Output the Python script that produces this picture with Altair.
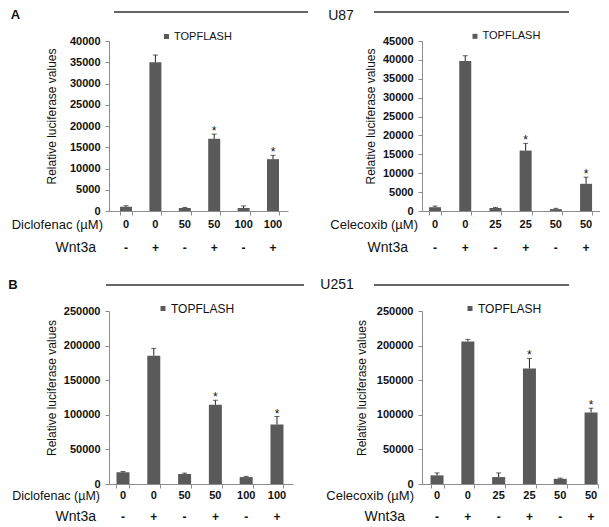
import altair as alt
import pandas as pd

# ---------------- data ----------------
doses_diclofenac = ["0", "0", "50", "50", "100", "100"]
doses_celecoxib = ["0", "0", "25", "25", "50", "50"]
wnt3a = ["-", "+", "-", "+", "-", "+"]
significant = [False, False, False, True, False, True]

u87_diclofenac_mean = [1000, 35000, 700, 17000, 700, 12200]
u87_diclofenac_err = [250, 1700, 150, 1100, 500, 900]
u87_celecoxib_mean = [1000, 39700, 800, 16000, 500, 7200]
u87_celecoxib_err = [300, 1400, 150, 1900, 200, 1750]
u251_diclofenac_mean = [17000, 185500, 14500, 114500, 10000, 86000]
u251_diclofenac_err = [1000, 10500, 1200, 6500, 1000, 11500]
u251_celecoxib_mean = [12500, 206000, 10000, 167000, 7500, 103500]
u251_celecoxib_err = [3500, 3000, 6000, 14500, 1000, 6000]

series_name = "TOPFLASH"
y_title = "Relative luciferase values"

FONT = "Liberation Sans"
BAR = "#5a5a5a"
AXIS = "#8c8c8c"
INK = "#111111"


def panel(doses, means, errs, drug_label, ymax, ystep, width, height,
          pi, po, al, legend_xy, offs, label_dx, wnt_dx, title_pad,
          legend_fs=11, label_fs=13, header=None):
    df = pd.DataFrame({
        "idx": list(range(len(doses))),
        "dose": doses,
        "wnt": wnt3a,
        "mean": means,
        "hi": [m + e for m, e in zip(means, errs)],
        "star": ["*" if s else "" for s in significant],
        "series": [series_name] * len(doses),
    })
    base = alt.Chart(df)
    x = alt.X("idx:O",
              scale=alt.Scale(paddingInner=pi, paddingOuter=po, align=al),
              axis=alt.Axis(title=None, labels=False, tickBand="extent",
                            tickSize=4, tickColor=AXIS, domainColor=AXIS))
    yscale = alt.Scale(domain=[0, ymax], nice=False)
    yaxis = alt.Axis(values=list(range(0, ymax + 1, ystep)), format="d",
                     labelOverlap=False, tickCount=len(range(0, ymax + 1, ystep)),
                     title=y_title, titlePadding=title_pad,
                     titleY=height / 2 - 10,
                     grid=False, tickSize=4, tickColor=AXIS,
                     domainColor=AXIS, labelPadding=5,
                     labelFontSize=11, labelFontWeight="bold",
                     labelColor=INK, titleFontSize=12,
                     titleFontWeight="normal", titleColor=INK)

    def yy(field):
        return alt.Y(field, scale=yscale, axis=yaxis, title=y_title)

    lx, ly = legend_xy
    bars = base.mark_bar().encode(
        x=x, y=yy("mean:Q"),
        color=alt.Color("series:N", scale=alt.Scale(range=[BAR]),
                        legend=alt.Legend(title=None, orient="none",
                                          legendX=lx - 10, legendY=ly - 7.5,
                                          symbolType="square", symbolSize=25,
                                          symbolStrokeWidth=0, padding=0,
                                          labelOffset=2, labelFontSize=legend_fs,
                                          labelColor=INK, labelFont=FONT)))
    err = base.mark_rule(color="#222222", strokeWidth=1).encode(
        x=x, y=yy("mean:Q"), y2="hi:Q")
    cap = base.mark_tick(color="#222222", thickness=1, size=5).encode(
        x=x, y=yy("hi:Q"))
    stars = base.mark_text(fontSize=12, baseline="alphabetic", dy=1,
                           color=INK, font=FONT).encode(
        x=x, y=yy("hi:Q"), text="star:N")
    dose_row = base.mark_text(fontSize=11, fontWeight="bold", color=INK,
                              baseline="middle", font=FONT).encode(
        x=x, y=alt.value(height + offs[0]), text="dose:N")
    wnt_row = base.mark_text(fontSize=12, fontWeight="bold", color=INK,
                             baseline="middle", font=FONT).encode(
        x=x, y=alt.value(height + offs[1]), text="wnt:N")
    one = alt.Chart(pd.DataFrame({"k": [0]}))
    drug_txt = one.mark_text(fontSize=label_fs, align="right", baseline="middle",
                             color=INK, font=FONT).encode(
        x=alt.value(label_dx), y=alt.value(height + offs[0]),
        text=alt.value(drug_label))
    wnt_txt = one.mark_text(fontSize=14, align="right", baseline="middle",
                            color=INK, font=FONT).encode(
        x=alt.value(wnt_dx), y=alt.value(height + offs[1]),
        text=alt.value("Wnt3a"))
    layers = [bars, err, cap, stars, dose_row, wnt_row, drug_txt, wnt_txt]
    if header is not None:
        letter, lpos, cell, cpos, line_y, cell_y, l1, l2 = header
        layers.append(one.mark_text(fontSize=13, fontWeight="bold",
                                    baseline="middle", align="center",
                                    color=INK, font=FONT).encode(
            x=alt.value(lpos[0]), y=alt.value(lpos[1]), text=alt.value(letter)))
        layers.append(one.mark_text(fontSize=14, baseline="middle",
                                    align="center", color=INK, font=FONT).encode(
            x=alt.value(cpos), y=alt.value(cell_y), text=alt.value(cell)))
        for a, b in (l1, l2):
            layers.append(one.mark_rule(color="#333333", strokeWidth=1.3).encode(
                x=alt.value(a), x2=alt.value(b), y=alt.value(line_y)))
    return alt.layer(*layers).properties(width=width, height=height)


a_left = panel(doses_diclofenac, u87_diclofenac_mean, u87_diclofenac_err,
               "Diclofenac  (µM)", 40000, 5000, 179, 170,
               0.592, 0.34, 0.55, (62, -2.5), (14, 37), -6, -13, 11,
               header=("A", (-93.5, -26.5), "U87", 232, -29, -25.5,
                       (5, 199), (265, 460)))
a_right = panel(doses_celecoxib, u87_celecoxib_mean, u87_celecoxib_err,
                "Celecoxib (µM)", 45000, 5000, 178, 170,
                0.603, 0.248, 0.47, (57.5, -2.7), (14, 37), -4, -14, 5)
b_left = panel(doses_diclofenac, u251_diclofenac_mean, u251_diclofenac_err,
               "Diclofenac  (µM)", 250000, 50000, 184, 173,
               0.578, 0.276, 0.44, (58, -1), (12, 33), -9, -13, 5,
               legend_fs=12, label_fs=12.5,
               header=("B", (-96, -26.5), "U251", 228, -26, -26,
                       (-3, 195), (265, 460)))
b_right = panel(doses_celecoxib, u251_celecoxib_mean, u251_celecoxib_err,
                "Celecoxib (µM)", 250000, 50000, 176, 173,
                0.578, 0.146, 0.95, (52, -1), (12, 33), -8, -17, 8,
                legend_fs=12)

chart = alt.concat(a_left, a_right, b_left, b_right, columns=2,
                   spacing={"row": 100, "column": 129}, bounds="flush"
                   ).resolve_scale(color="independent").resolve_legend(
    color="independent").properties(padding=0).configure(
    font=FONT).configure_view(stroke=None)

chart.save("out.html", embed_options={"renderer": "svg", "actions": False})
